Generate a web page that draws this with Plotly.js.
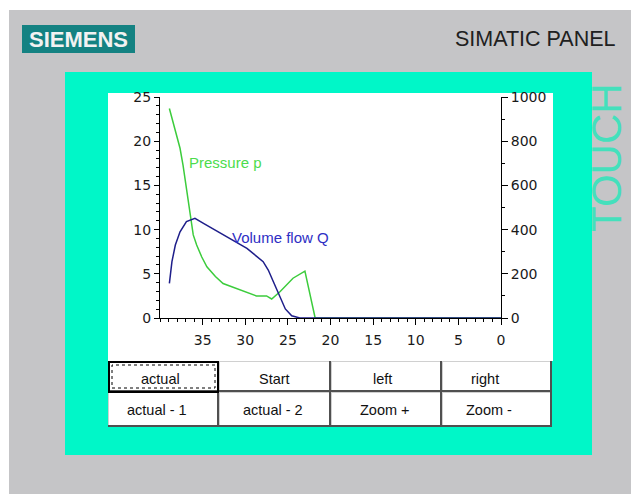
<!DOCTYPE html>
<html>
<head>
<meta charset="utf-8">
<script src="https://cdn.plot.ly/plotly-3.0.1.min.js"></script>
<style>
  html, body { margin: 0; padding: 0; background: #ffffff; }
  #chart { width: 631px; height: 494px; }
</style>
</head>
<body>
<div id="chart"></div>
<script>
// ---- data ----
const pressureX = [38.9, 38.2, 37.65, 37.3, 36.9, 36.5, 36.1, 35.7, 35.1, 34.5, 33.5, 32.6, 30.2, 28.7, 27.5, 26.9, 25.9, 24.4, 23.0, 21.8, 0];
const pressureY = [23.7, 21.1, 19.2, 17.3, 14.7, 12.0, 9.4, 8.26, 6.9, 5.8, 4.7, 3.9, 3.0, 2.5, 2.5, 2.15, 3.0, 4.5, 5.3, 0, 0];

const flowX = [38.9, 38.6, 38.2, 37.65, 36.9, 35.9, 34.9, 32.2, 29.8, 27.9, 27.3, 26.7, 25.9, 25.3, 24.55, 23.6, 0];
const flowY = [157, 255, 330, 390, 436, 451, 428, 368, 315, 255, 217, 164, 89, 41, 10, 0, 0];

const xTickVals = [35, 30, 25, 20, 15, 10, 5, 0];
const yLeftTicks = [0, 5, 10, 15, 20, 25];
const yRightTicks = [0, 200, 400, 600, 800, 1000];

const seriesNames = ["Pressure p", "Volume flow Q"];
const buttonRow1 = ["actual", "Start", "left", "right"];
const buttonRow2 = ["actual - 1", "actual - 2", "Zoom +", "Zoom -"];
const brandText = "SIEMENS";
const panelText = "SIMATIC PANEL";
const touchText = "TOUCH";

// ---- layout geometry (pixels) ----
const L = 160, R = 501, T = 97, B = 318;
const W = 631, H = 494;
const px = x => (x - L) / (R - L);
const py = y => (B - y) / (B - T);

const shapes = [];
const ann = [];
function rect(x0, y0, x1, y1, fill, line) {
  shapes.push({type: 'rect', xref: 'paper', yref: 'paper', layer: 'below',
    x0: px(x0), x1: px(x1), y0: py(y1), y1: py(y0),
    fillcolor: fill, line: line || {width: 0}});
}
function seg(x0, y0, x1, y1, color, width, dash) {
  shapes.push({type: 'line', xref: 'paper', yref: 'paper', layer: 'below',
    x0: px(x0), x1: px(x1), y0: py(y0), y1: py(y1),
    line: {color: color, width: width, dash: dash || 'solid'}});
}
function text(x, y, t, font, opts) {
  ann.push(Object.assign({xref: 'paper', yref: 'paper', x: px(x), y: py(y), text: t,
    showarrow: false, xanchor: 'center', yanchor: 'middle', font: font}, opts || {}));
}

// backgrounds
rect(9, 10, W, H, '#c5c5c7');
rect(22, 25, 135, 53, '#148282');
rect(65, 72, 592, 455, '#00f7c8');
rect(108, 93, 553, 361, '#ffffff');

// buttons
const colEdges = [108, 219, 331, 442, 552];
const rowEdges = [361, 392, 427];
for (let r = 0; r < 2; r++) {
  for (let c = 0; c < 4; c++) {
    const x0 = colEdges[c], x1 = colEdges[c + 1], y0 = rowEdges[r], y1 = rowEdges[r + 1];
    rect(x0, y0, x1, y1, '#ffffff');
    seg(x0, y0 + 0.5, x1, y0 + 0.5, '#d0d0d0', 1);
    seg(x0 + 0.5, y0, x0 + 0.5, y1, '#d0d0d0', 1);
    seg(x1 - 1, y0, x1 - 1, y1, '#505050', 2);
    seg(x0, y1 - 1, x1, y1 - 1, '#505050', 2);
  }
}
// focused button
shapes.push({type: 'rect', xref: 'paper', yref: 'paper', layer: 'below',
  x0: px(109), x1: px(218), y0: py(392), y1: py(362),
  fillcolor: 'rgba(0,0,0,0)', line: {color: '#000000', width: 2}});
shapes.push({type: 'rect', xref: 'paper', yref: 'paper', layer: 'below',
  x0: px(112), x1: px(215), y0: py(388), y1: py(365),
  fillcolor: 'rgba(0,0,0,0)', line: {color: '#000000', width: 1, dash: 'dot'}});

const btnFont = {family: 'Liberation Sans, Arial, sans-serif', size: 14.5, color: '#111111'};
const row1X = [160, 274, 382.5, 485];
const row2X = [157, 272.5, 385, 489];
buttonRow1.forEach((t, i) => text(row1X[i], 378.5, t, btnFont));
buttonRow2.forEach((t, i) => text(row2X[i], 410, t, btnFont));

// header texts
text(78.5, 39.5, brandText, {family: 'Liberation Sans, Arial, sans-serif', size: 22, color: '#f2f2f2', weight: 'bold'});
text(535.5, 39, panelText, {family: 'Liberation Sans, Arial, sans-serif', size: 21.5, color: '#202020'});
text(606, 158, touchText, {family: 'Liberation Sans, Arial, sans-serif', size: 42, color: '#44e0bc'}, {textangle: -90, borderpad: 0});

// series labels
text(187, 162, seriesNames[0], {family: 'Liberation Sans, Arial, sans-serif', size: 15, color: '#4cdc4c'}, {xanchor: 'left'});
text(230, 237, seriesNames[1], {family: 'Liberation Sans, Arial, sans-serif', size: 15, color: '#2e2ec4'}, {xanchor: 'left'});

const tickFont = {family: 'DejaVu Sans, sans-serif', size: 14, color: '#1a1a1a'};

const traces = [
  {x: flowX, y: flowY, yaxis: 'y2', type: 'scatter', mode: 'lines', name: seriesNames[1],
   line: {color: '#1e1e8a', width: 1.5}},
  {x: pressureX, y: pressureY, yaxis: 'y', type: 'scatter', mode: 'lines', name: seriesNames[0],
   line: {color: '#3ccc3c', width: 1.5}}
];

const layout = {
  width: W, height: H,
  margin: {l: L, r: W - R, t: T, b: H - B, pad: 0},
  paper_bgcolor: '#ffffff',
  plot_bgcolor: 'rgba(0,0,0,0)',
  showlegend: false,
  hovermode: false,
  xaxis: {
    range: [40, 0], tickvals: xTickVals, ticktext: xTickVals.map(String),
    showgrid: false, zeroline: false, showline: true, linecolor: '#000000', linewidth: 1,
    ticks: 'outside', ticklen: 6, tickwidth: 1, tickcolor: '#000000',
    minor: {dtick: 1, tick0: 0, ticks: 'outside', ticklen: 3, tickwidth: 1, tickcolor: '#000000', showgrid: false},
    tickfont: tickFont, ticklabelstandoff: 3
  },
  yaxis: {
    range: [0, 25], tickvals: yLeftTicks, ticktext: yLeftTicks.map(String),
    showgrid: false, zeroline: false, showline: true, linecolor: '#000000', linewidth: 1,
    ticks: 'outside', ticklen: 5, tickwidth: 1, tickcolor: '#000000',
    minor: {dtick: 1, tick0: 0, ticks: 'outside', ticklen: 3, tickwidth: 1, tickcolor: '#000000', showgrid: false},
    tickfont: tickFont
  },
  yaxis2: {
    range: [0, 1000], overlaying: 'y', side: 'right', tickvals: yRightTicks, ticktext: yRightTicks.map(String),
    showgrid: false, zeroline: false, showline: true, linecolor: '#000000', linewidth: 1,
    ticks: 'outside', ticklen: 6, tickwidth: 1, tickcolor: '#000000',
    minor: {dtick: 100, tick0: 0, ticks: 'outside', ticklen: 3, tickwidth: 1, tickcolor: '#000000', showgrid: false},
    tickfont: tickFont
  },
  shapes: shapes,
  annotations: ann
};

Plotly.newPlot('chart', traces, layout, {staticPlot: true, displayModeBar: false});
</script>
</body>
</html>
